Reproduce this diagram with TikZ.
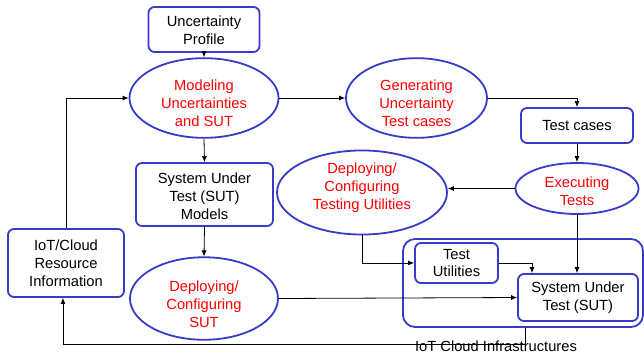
\documentclass[tikz,border=0pt]{standalone}
\usepackage{fontspec}
\setmainfont{Liberation Sans}
\usetikzlibrary{shapes.geometric,arrows.meta}
\definecolor{bord}{RGB}{56,58,200}
\newcommand\tdn[1]{\rule{0pt}{\dimexpr 10.6pt+#1+#1\relax}}
\newcommand\tup[1]{\rule[\dimexpr -3.2pt-#1-#1\relax]{0pt}{1pt}}
\begin{document}
\begin{tikzpicture}[x=1pt,y=-1pt,
  every node/.style={font=\fontsize{14.7}{17.8}\selectfont, align=center},
  bx/.style={draw=bord, line width=1.8pt, rounded corners=6pt, inner sep=0pt},
  el/.style={draw=bord, line width=1.8pt, ellipse, inner sep=0pt, text=red},
  conn/.style={draw=black, line width=0.8pt, -{Latex[length=6pt,width=5pt]}},
]
\useasboundingbox (0,0) rectangle (644,356);
\node[bx, minimum width=111pt, minimum height=45pt] (up) at (204,29.5) {\tdn{1pt}Uncertainty\\Profile};
\node[el, minimum width=149pt, minimum height=70pt] (mod) at (204,98) {\tdn{5pt}Modeling\\Uncertainties\\and SUT};
\node[el, minimum width=141pt, minimum height=70pt] (gen) at (416.5,98) {\tdn{5pt}Generating\\Uncertainty\\Test cases};
\node[bx, minimum width=112pt, minimum height=35pt] (tc) at (577,125.5) {Test cases};
\node[bx, minimum width=137pt, minimum height=63pt] (sm) at (204.5,194.5) {\tdn{2pt}System Under\\Test (SUT)\\Models};
\node[el, minimum width=123pt, minimum height=51pt] (ex) at (577,188.5) {\tdn{3pt}Executing\\Tests};
\node[el, minimum width=170pt, minimum height=81pt] (dtu) at (362,192.5) {Deploying/\\Configuring\\Testing Utilities\tup{5pt}};
\node[bx, minimum width=116pt, minimum height=68pt] (iot) at (66,263) {IoT/Cloud\\Resource\\Information};
\node[el, minimum width=148pt, minimum height=67pt] (dsut) at (204,298.5) {\tdn{6pt}Deploying/\\Configuring\\SUT};
\node[bx, rounded corners=12pt, minimum width=240pt, minimum height=88pt] (infra) at (523,283) {};
\node[bx, minimum width=83pt, minimum height=40pt] (tu) at (456.5,263) {Test\\Utilities};
\node[bx, minimum width=120pt, minimum height=47pt] (sut) at (578,297.5) {System Under\\Test (SUT)};

\draw[conn] (up.south) -- (mod.north);
\draw[conn] (iot.north) |- (mod.west);
\draw[conn] (mod.south) -- (sm.north);
\draw[conn] (mod.east) -- (gen.west);
\draw[conn] (gen.east) -| (tc.north);
\draw[conn] (tc.south) -- (ex.north);
\draw[conn] (ex.west) -- (dtu.east |- ex.west);
\draw[conn] (ex.south) -- (ex.south |- sut.north);
\draw[conn] (sm.south) -- (dsut.north);
\draw[conn] (dtu.south) |- (tu.west);
\draw[conn] (tu.east) -| ([xshift=-46pt]sut.north);
\draw[conn] (dsut.east) -- (sut.west);
\draw[conn] ([xshift=2pt]infra.south) -- ++(0,16.5) -| ([xshift=-3pt]iot.south);
\node (lab) at (496,346) {IoT Cloud Infrastructures};
\end{tikzpicture}
\end{document}
